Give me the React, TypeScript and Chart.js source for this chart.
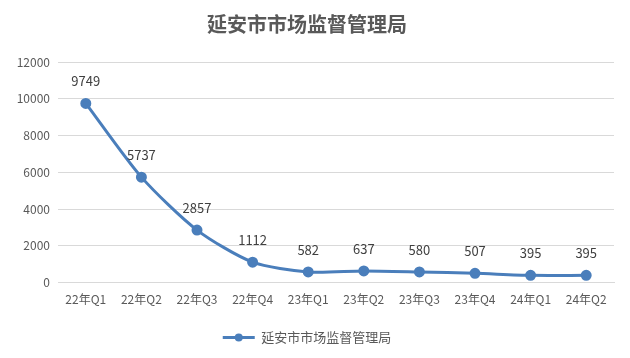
import React, { useEffect, useRef } from "react";
import { Chart, registerables } from "chart.js";

Chart.register(...registerables);

const TITLE = "延安市市场监督管理局";
const CATEGORIES = ["22年Q1", "22年Q2", "22年Q3", "22年Q4", "23年Q1", "23年Q2", "23年Q3", "23年Q4", "24年Q1", "24年Q2"];
const VALUES = [9749, 5737, 2857, 1112, 582, 637, 580, 507, 395, 395];
const Y_MIN = 0;
const Y_MAX = 12000;
const Y_STEP = 2000;

const FONT = "'Noto Sans CJK SC', 'Noto Sans', sans-serif";
const LINE_COLOR = "#4a7ebb";
const LEGEND_MARK_W = 32;

const labelPlugin = {
  id: "pointLabels",
  afterDatasetsDraw(chart: any) {
    const ctx = chart.ctx;
    const meta = chart.getDatasetMeta(0);
    ctx.save();
    ctx.font = `13px ${FONT}`;
    ctx.fillStyle = "#404040";
    ctx.textAlign = "center";
    ctx.textBaseline = "middle";
    meta.data.forEach((pt: any, i: number) => {
      ctx.fillText(String(VALUES[i]), pt.x, pt.y - 22);
    });
    ctx.restore();
  },
  afterDraw(chart: any) {
    const lg = chart.legend;
    if (!lg || !lg.legendHitBoxes || !lg.legendHitBoxes.length) return;
    const hb = lg.legendHitBoxes[0];
    const ctx = chart.ctx;
    ctx.save();
    ctx.fillStyle = LINE_COLOR;
    ctx.beginPath();
    ctx.arc(hb.left + LEGEND_MARK_W / 2, hb.top + hb.height / 2, 4, 0, Math.PI * 2);
    ctx.fill();
    ctx.restore();
  },
};

export default function App() {
  const ref = useRef<HTMLCanvasElement>(null);
  useEffect(() => {
    document.body.style.margin = "0";
    const chart = new Chart(ref.current!, {
      type: "line",
      data: {
        labels: CATEGORIES,
        datasets: [
          {
            label: TITLE,
            data: VALUES,
            borderColor: LINE_COLOR,
            backgroundColor: LINE_COLOR,
            borderWidth: 3,
            pointRadius: 4,
            pointHoverRadius: 4,
            pointBackgroundColor: LINE_COLOR,
            pointBorderColor: LINE_COLOR,
            tension: 0.25,
          },
        ],
      },
      options: {
        animation: false,
        responsive: false,
        layout: { padding: { left: 0, right: 16, top: 8, bottom: 4 } },
        plugins: {
          title: {
            display: true,
            text: TITLE,
            color: "#595959",
            font: { family: "'Noto Sans CJK SC', serif", size: 20, weight: "bold" },
            padding: { top: 4, bottom: 26 },
          },
          legend: {
            display: true,
            position: "bottom",
            labels: {
              color: "#595959",
              font: { family: FONT, size: 13 },
              usePointStyle: true,
              pointStyle: "line",
              pointStyleWidth: LEGEND_MARK_W,
              boxWidth: LEGEND_MARK_W,
              padding: 14,
              generateLabels: () => [
                {
                  text: TITLE,
                  fillStyle: LINE_COLOR,
                  strokeStyle: LINE_COLOR,
                  lineWidth: 3,
                  pointStyle: "line",
                  datasetIndex: 0,
                  fontColor: "#595959",
                },
              ],
            },
          },
          tooltip: { enabled: false },
        },
        scales: {
          x: {
            offset: true,
            grid: { display: false, drawTicks: false },
            border: { display: true, color: "#d9d9d9", width: 1 },
            ticks: { color: "#595959", font: { family: FONT, size: 12 }, padding: 10, maxRotation: 0, autoSkip: false },
          },
          y: {
            min: Y_MIN,
            max: Y_MAX,
            grid: { color: "#d9d9d9", drawTicks: false },
            border: { display: false },
            ticks: {
              stepSize: Y_STEP,
              color: "#595959",
              font: { family: FONT, size: 12 },
              padding: 8,
              callback: (v: any) => String(v),
            },
            afterFit: (s: any) => {
              s.width = 58;
            },
          },
        },
      },
      plugins: [labelPlugin],
    });
    return () => chart.destroy();
  }, []);
  return (
    <div style={{ position: "absolute", left: 0, top: 0, width: 630, height: 358, background: "#fff" }}>
      <canvas ref={ref} width={630} height={358} />
    </div>
  );
}
